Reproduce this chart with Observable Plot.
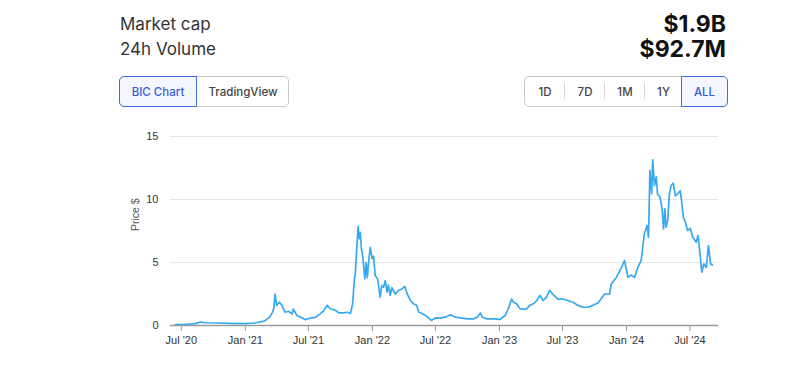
<!DOCTYPE html>
<html><head><meta charset="utf-8">
<script src="https://cdn.jsdelivr.net/npm/d3@7"></script>
<script src="https://cdn.jsdelivr.net/npm/@observablehq/plot@0.6"></script>
<style>
body{margin:0;background:#fff;width:810px;height:366px;overflow:hidden;font-family:Inter,"Noto Sans",sans-serif;}
#wrap{position:relative;width:810px;height:366px;}
.lbl{position:absolute;left:120px;font-size:17px;line-height:17px;color:#333;white-space:nowrap;}
.val{position:absolute;right:84px;font-size:23px;line-height:23px;font-weight:700;color:#111;white-space:nowrap;}
.grp{position:absolute;top:76px;height:31px;border:1px solid #c8c8c8;border-radius:5px;box-sizing:border-box;}
.btn{position:absolute;top:-1px;height:31px;box-sizing:border-box;display:flex;align-items:center;justify-content:center;font-size:11.5px;font-weight:450;color:#444;}
.act{border:1px solid #3d6fdc;background:#f4f7ff;color:#3b5bd6;}
.div{position:absolute;top:6px;width:1px;height:16px;background:#d8d8d8;}
#chart{position:absolute;left:0;top:120px;}
</style></head>
<body><div id="wrap">
<div class="lbl" style="top:16px">Market cap</div>
<div class="lbl" style="top:40.6px">24h Volume</div>
<div class="val" style="top:12.8px">$1.9B</div>
<div class="val" style="top:38.4px">$92.7M</div>
<div class="grp" style="left:119px;width:170px">
  <div class="btn act" style="left:-1px;width:78px;border-radius:5px 0 0 5px">BIC Chart</div>
  <div class="btn" style="left:77px;width:92px">TradingView</div>
</div>
<div class="grp" style="left:524px;width:203px">
  <div class="btn" style="left:0px;width:40px">1D</div>
  <div class="div" style="left:39px"></div>
  <div class="btn" style="left:40px;width:40px">7D</div>
  <div class="div" style="left:79px"></div>
  <div class="btn" style="left:80px;width:40px">1M</div>
  <div class="div" style="left:119px"></div>
  <div class="btn" style="left:120px;width:37px">1Y</div>
  <div class="btn act" style="left:156px;width:47px;border-radius:0 5px 5px 0">ALL</div>
</div>
<div id="chart"></div>
</div>
<script>
const dates = ["2020-06-14","2020-07-12","2020-08-10","2020-08-25","2020-09-08","2020-10-12","2020-11-19","2021-01-01","2021-01-14","2021-01-28","2021-02-11","2021-02-25","2021-03-12","2021-03-20","2021-03-24","2021-03-27","2021-04-01","2021-04-09","2021-04-16","2021-04-25","2021-05-05","2021-05-15","2021-05-19","2021-05-29","2021-06-13","2021-06-22","2021-07-07","2021-07-21","2021-08-04","2021-08-14","2021-08-24","2021-09-02","2021-09-17","2021-09-26","2021-10-11","2021-10-20","2021-10-30","2021-11-05","2021-11-10","2021-11-13","2021-11-18","2021-11-21","2021-11-24","2021-11-27","2021-11-30","2021-12-05","2021-12-10","2021-12-14","2021-12-17","2021-12-23","2021-12-26","2021-12-31","2022-01-04","2022-01-09","2022-01-16","2022-01-23","2022-01-28","2022-02-02","2022-02-07","2022-02-12","2022-02-16","2022-02-21","2022-02-26","2022-03-08","2022-03-17","2022-03-27","2022-04-04","2022-04-11","2022-04-20","2022-04-30","2022-05-08","2022-05-14","2022-05-24","2022-06-02","2022-06-12","2022-06-19","2022-07-01","2022-07-15","2022-08-03","2022-08-13","2022-08-27","2022-09-11","2022-09-30","2022-10-19","2022-10-30","2022-11-07","2022-11-12","2022-11-26","2022-12-15","2023-01-02","2023-01-17","2023-01-26","2023-02-05","2023-02-10","2023-02-19","2023-03-01","2023-03-10","2023-03-20","2023-03-29","2023-04-08","2023-04-18","2023-04-27","2023-05-06","2023-05-16","2023-05-25","2023-06-04","2023-06-18","2023-07-02","2023-07-16","2023-07-31","2023-08-14","2023-08-29","2023-09-12","2023-09-26","2023-10-11","2023-10-30","2023-11-13","2023-11-18","2023-12-03","2023-12-17","2023-12-26","2024-01-05","2024-01-14","2024-01-24","2024-02-02","2024-02-12","2024-02-21","2024-02-29","2024-03-04","2024-03-08","2024-03-13","2024-03-16","2024-03-21","2024-03-26","2024-03-30","2024-04-06","2024-04-12","2024-04-16","2024-04-20","2024-04-23","2024-04-28","2024-05-03","2024-05-08","2024-05-14","2024-05-20","2024-05-27","2024-06-03","2024-06-07","2024-06-12","2024-06-18","2024-06-24","2024-07-02","2024-07-09","2024-07-19","2024-07-24","2024-07-28","2024-08-04","2024-08-10","2024-08-17","2024-08-23","2024-08-29","2024-09-03"];
const prices = [0.08,0.1,0.15,0.28,0.22,0.2,0.17,0.15,0.18,0.2,0.28,0.35,0.66,1.06,1.4,2.5,1.6,1.85,1.6,1.05,1.13,0.92,1.3,0.8,0.6,0.47,0.6,0.65,0.92,1.18,1.6,1.33,1.2,1.0,1.0,1.05,0.95,1.7,3.6,4.2,6.6,7.86,6.9,7.4,6.2,5.3,3.7,5.0,3.8,5.55,6.2,5.3,5.5,3.97,3.7,2.25,3.17,3.05,3.57,2.65,3.2,2.4,3.0,2.5,2.8,2.9,3.1,2.5,2.0,1.7,1.6,1.05,0.95,0.8,0.6,0.4,0.6,0.58,0.71,0.85,0.66,0.6,0.53,0.53,0.7,1.0,0.66,0.53,0.53,0.48,0.79,1.32,2.1,1.85,1.72,1.32,1.3,1.32,1.6,1.72,1.98,2.38,1.98,2.25,2.78,2.46,2.1,2.1,1.98,1.85,1.6,1.45,1.45,1.6,1.78,2.5,2.5,3.3,3.83,4.6,5.16,3.83,4.0,3.83,4.6,5.16,7.28,7.94,7.0,12.3,10.45,13.15,11.1,11.8,10.4,10.2,9.26,7.67,9.26,7.8,8.33,10.45,11.1,11.3,10.3,10.45,10.7,9.9,8.6,8.2,7.54,7.7,7.0,6.6,7.14,6.2,4.23,4.9,4.6,6.35,4.9,4.8];
const xTicks = ["2020-07-01","2021-01-01","2021-07-01","2022-01-01","2022-07-01","2023-01-01","2023-07-01","2024-01-01","2024-07-01"];
const xTickLabels = ["Jul '20","Jan '21","Jul '21","Jan '22","Jul '22","Jan '23","Jul '23","Jan '24","Jul '24"];
const yTicks = [0,5,10,15];
const yLabel = "Price $";

const data = dates.map((d,i)=>({date:new Date(d), price:prices[i]}));
const tickDates = xTicks.map(d=>new Date(d));

const chart = Plot.plot({
  width: 810, height: 240,
  marginLeft: 170, marginRight: 92, marginTop: 16, marginBottom: 35,
  style: {fontFamily: "'Liberation Sans', Arial, sans-serif", fontSize: "11px", color: "#333", background: "transparent"},
  x: {type: "utc", domain: [new Date("2020-05-31"), new Date("2024-09-21")]},
  y: {domain: [0, 15]},
  marks: [
    Plot.gridY(yTicks.slice(1), {stroke: "#e6e6e6", strokeOpacity: 1}),
    Plot.axisY(yTicks, {tickSize: 0, tickPadding: 12, label: null, fill: "#333"}),
    Plot.axisX(tickDates, {tickSize: 6, tickPadding: 5, label: null, stroke: "#999", fill: "#333", tickFormat: (d, i) => xTickLabels[i]}),
    Plot.ruleY([0], {stroke: "#9a9a9a", strokeWidth: 1.5}),
    Plot.line(data, {x: "date", y: "price", stroke: "#36a9f0", strokeWidth: 1.7}),
    Plot.text([yLabel], {frameAnchor: "left", dx: -35, rotate: -90, fill: "#555", fontSize: 10.5})
  ]
});
document.getElementById("chart").appendChild(chart);
</script>
</body></html>
